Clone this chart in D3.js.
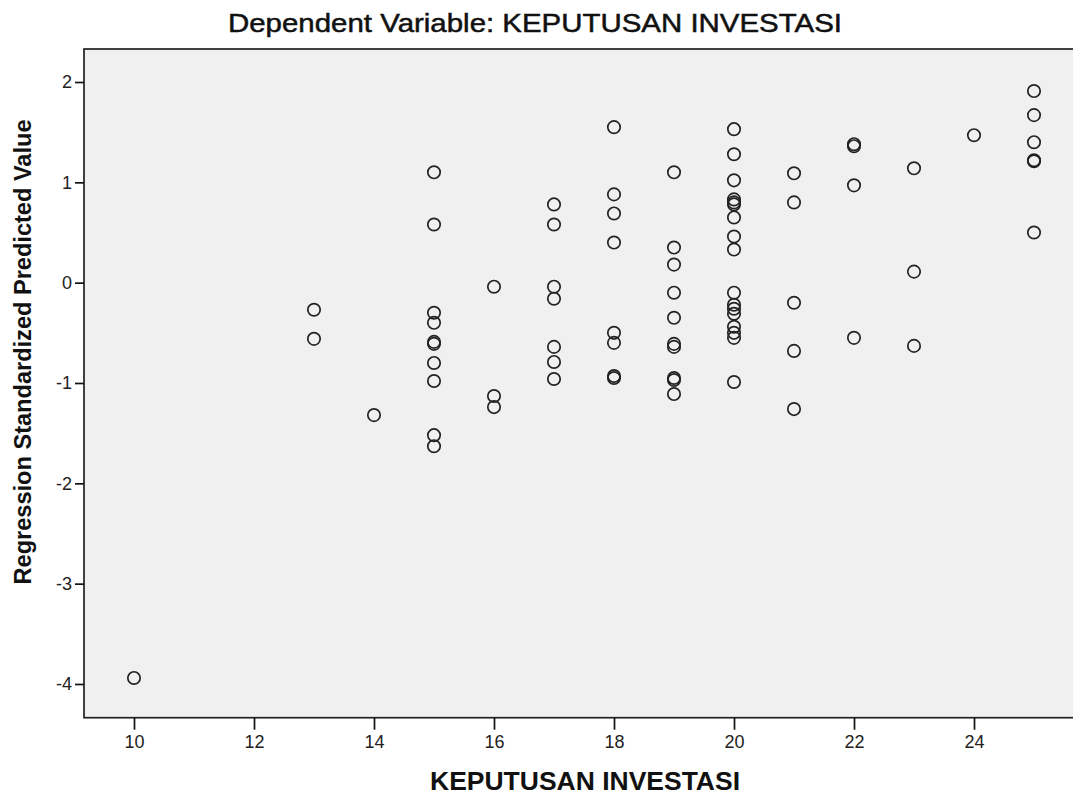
<!DOCTYPE html>
<html>
<head>
<meta charset="utf-8">
<script src="https://cdn.jsdelivr.net/npm/d3@7"></script>
<style>
  body { margin: 0; background: #fff; }
  text { font-family: "Liberation Sans", Arial, sans-serif; fill: #111; }
</style>
</head>
<body>
<div id="chart"></div>
<script>
// values (x = KEPUTUSAN INVESTASI, y = standardized predicted value)
var decisionScores = [
  10,
  13, 13,
  14,
  15, 15, 15, 15, 15, 15, 15, 15, 15, 15,
  16, 16, 16,
  17, 17, 17, 17, 17, 17, 17,
  18, 18, 18, 18, 18, 18, 18, 18,
  19, 19, 19, 19, 19, 19, 19, 19, 19, 19,
  20, 20, 20, 20, 20, 20, 20, 20, 20, 20, 20, 20, 20, 20, 20, 20, 20,
  21, 21, 21, 21, 21,
  22, 22, 22, 22,
  23, 23, 23,
  24,
  25, 25, 25, 25, 25, 25
];
var predictedValues = [
  -3.94,
  -0.27, -0.56,
  -1.32,
  1.10, 0.58, -0.30, -0.40, -0.59, -0.61, -0.80, -0.98, -1.52, -1.63,
  -0.04, -1.13, -1.24,
  0.78, 0.58, -0.04, -0.16, -0.64, -0.79, -0.96,
  1.55, 0.88, 0.69, 0.40, -0.50, -0.60, -0.93, -0.95,
  1.10, 0.35, 0.18, -0.10, -0.35, -0.61, -0.64, -0.95, -0.97, -1.11,
  1.53, 1.28, 1.02, 0.83, 0.80, 0.78, 0.65, 0.46, 0.33, -0.10, -0.22, -0.26, -0.31, -0.44, -0.50, -0.55, -0.99,
  1.09, 0.80, -0.20, -0.68, -1.26,
  1.38, 1.36, 0.97, -0.55,
  1.14, 0.11, -0.63,
  1.47,
  1.91, 1.67, 1.40, 1.22, 1.21, 0.50
];
var xTicks = [10, 12, 14, 16, 18, 20, 22, 24];
var yTicks = [2, 1, 0, -1, -2, -3, -4];

var chartTitle = "Dependent Variable: KEPUTUSAN INVESTASI";
var xTitle = "KEPUTUSAN INVESTASI";
var yTitle = "Regression Standardized Predicted Value";

const W = 1073, H = 801;
const plotLeft = 84, plotTop = 49, plotBottom = 717.7, plotRight = 1076;

const svg = d3.select("#chart")
  .append("svg")
  .attr("width", W)
  .attr("height", H);

const x = d3.scaleLinear().domain([9.1667, 25.7]).range([plotLeft, plotRight]);
const y = d3.scaleLinear().domain([-4.336, 2.329]).range([plotBottom, plotTop]);

// plain hyphen like SPSS, not the unicode minus
const fmt = d => String(d);

// plot area
svg.append("rect")
  .attr("x", plotLeft).attr("y", plotTop)
  .attr("width", plotRight - plotLeft).attr("height", plotBottom - plotTop)
  .style("fill", "#f0f0f0")
  .style("stroke", "#222")
  .style("stroke-width", 1.7);

// axes
const xAxis = svg.append("g")
  .attr("transform", "translate(0," + plotBottom + ")")
  .call(d3.axisBottom(x).tickValues(xTicks).tickSize(12).tickPadding(6).tickFormat(fmt));
const yAxis = svg.append("g")
  .attr("transform", "translate(" + plotLeft + ",0)")
  .call(d3.axisLeft(y).tickValues(yTicks).tickSize(9).tickPadding(3).tickFormat(fmt));

[xAxis, yAxis].forEach(function (a) {
  a.select(".domain").remove();
  a.selectAll(".tick line").style("stroke", "#111").style("stroke-width", 1.7);
  a.selectAll(".tick text")
    .style("font-size", "18px")
    .style("fill", "#222")
    .style("font-family", "'Liberation Sans', Arial, sans-serif");
});

// points
svg.append("g")
  .selectAll("circle")
  .data(decisionScores)
  .enter().append("circle")
  .attr("cx", d => x(d))
  .attr("cy", (d, i) => y(predictedValues[i]))
  .attr("r", 6.2)
  .style("fill", "none")
  .style("stroke", "#222")
  .style("stroke-width", 1.7);

// titles
svg.append("text")
  .attr("x", 535).attr("y", 32)
  .attr("text-anchor", "middle")
  .attr("textLength", 614)
  .attr("lengthAdjust", "spacingAndGlyphs")
  .style("font-size", "26px")
  .style("stroke", "#111")
  .style("stroke-width", 0.5)
  .text(chartTitle);

svg.append("text")
  .attr("x", 585).attr("y", 790)
  .attr("text-anchor", "middle")
  .attr("textLength", 310)
  .attr("lengthAdjust", "spacingAndGlyphs")
  .style("font-size", "25px")
  .style("font-weight", "bold")
  .text(xTitle);

svg.append("text")
  .attr("transform", "translate(31,352) rotate(-90)")
  .attr("text-anchor", "middle")
  .attr("textLength", 465)
  .attr("lengthAdjust", "spacingAndGlyphs")
  .style("font-size", "24px")
  .style("font-weight", "bold")
  .text(yTitle);
</script>
</body>
</html>
